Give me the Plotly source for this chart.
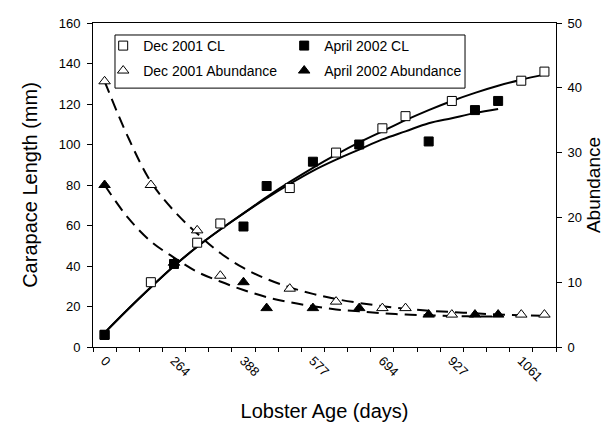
import plotly.graph_objects as go

# category slots along the x axis (Excel-style category axis, 20 slots)
slots = list(range(1, 21))
label_slots = [1, 4, 7, 10, 13, 16, 19]
age_labels = ["0", "264", "388", "577", "694", "927", "1061"]

# Dec 2001 sampling
dec_slots = [1, 3, 5, 6, 9, 11, 13, 14, 16, 19, 20]
dec_cl = [6, 32, 51.5, 61, 78.5, 96, 108, 114, 121.5, 131.5, 136]
dec_abund = [41, 25, 18, 11, 9, 7, 6, 6, 5, 5, 5]

# April 2002 sampling
apr_slots = [1, 4, 7, 8, 10, 12, 15, 17, 18]
apr_cl = [6, 41, 59.5, 79.5, 91.5, 100, 101.5, 117, 121.5]
apr_abund = [25, 13, 10, 6, 6, 6, 5, 5, 5]

# trend lines at each slot
dec_cl_trend = [7, 18.5, 29.5, 40, 49.5, 58, 66, 74, 81.5, 88.5, 95, 101,
                106.5, 112, 117, 121.5, 125.5, 129, 132, 134.5]
apr_cl_trend = [7, 18.5, 29.5, 40, 49.5, 58, 66, 73.5, 80.5, 87, 92.5, 97.5,
                102.5, 106.5, 110.5, 113, 115.5, 117.5]
dec_ab_trend = [41, 32.5, 25.5, 21, 17.5, 14.5, 12.2, 10.5, 9.2, 8.2, 7.4, 6.8,
                6.3, 5.9, 5.6, 5.4, 5.2, 5.0, 4.9, 4.8]
apr_ab_trend = [25, 20, 16.3, 13.8, 11.6, 10.1, 8.8, 7.7, 6.9, 6.3, 5.8, 5.5,
                5.2, 5.0, 4.9, 4.8, 4.7, 4.7]

FONT = "Liberation Sans, Arial, sans-serif"
fig = go.Figure()

# trend curves
fig.add_trace(go.Scatter(x=slots, y=dec_cl_trend, mode="lines", line_shape="spline",
                         line=dict(color="black", width=2), showlegend=False))
fig.add_trace(go.Scatter(x=slots[:len(apr_cl_trend)], y=apr_cl_trend, mode="lines",
                         line_shape="spline", line=dict(color="black", width=2),
                         showlegend=False))
fig.add_trace(go.Scatter(x=slots, y=dec_ab_trend, mode="lines", line_shape="spline",
                         line=dict(color="black", width=2, dash="12px,7px"),
                         yaxis="y2", showlegend=False))
fig.add_trace(go.Scatter(x=slots[:len(apr_ab_trend)], y=apr_ab_trend, mode="lines",
                         line_shape="spline",
                         line=dict(color="black", width=2, dash="12px,7px"),
                         yaxis="y2", showlegend=False))

# markers
fig.add_trace(go.Scatter(x=dec_slots, y=dec_cl, mode="markers", name="Dec 2001 CL",
                         marker=dict(symbol="square", size=9, color="white",
                                     line=dict(color="black", width=1)),
                         legend="legend"))
fig.add_trace(go.Scatter(x=apr_slots, y=apr_cl, mode="markers", name="April 2002 CL",
                         marker=dict(symbol="square", size=9, color="black",
                                     line=dict(color="black", width=1)),
                         legend="legend"))
fig.add_trace(go.Scatter(x=dec_slots, y=dec_abund, mode="markers",
                         name="Dec 2001 Abundance", yaxis="y2",
                         marker=dict(symbol="triangle-up", size=10, color="white",
                                     line=dict(color="black", width=1)),
                         legend="legend2"))
fig.add_trace(go.Scatter(x=apr_slots, y=apr_abund, mode="markers",
                         name="April 2002 Abundance", yaxis="y2",
                         marker=dict(symbol="triangle-up", size=10, color="black",
                                     line=dict(color="black", width=1)),
                         legend="legend2"))

legend_style = dict(orientation="h", xanchor="left", yanchor="middle",
                    bgcolor="rgba(0,0,0,0)", borderwidth=0, entrywidth=136,
                    itemwidth=30, font=dict(family=FONT, size=14, color="black"))

fig.update_layout(
    template="none",
    width=609, height=429,
    margin=dict(l=85, r=61, t=15, b=90),
    paper_bgcolor="white", plot_bgcolor="white",
    font=dict(family=FONT, size=13, color="black"),
    xaxis=dict(range=[0.5, 20.5], tickmode="array", tickvals=label_slots,
               ticktext=age_labels, tickangle=45, ticks="", showgrid=False,
               zeroline=False, showline=True, linecolor="black", linewidth=1,
               mirror=True, automargin=False,
               minor=dict(tickmode="array",
                          tickvals=[s - 0.5 for s in slots] + [20.5],
                          ticks="outside", ticklen=4, tickcolor="black",
                          showgrid=False),
               title=dict(text="Lobster Age (days)", font=dict(size=20),
                          standoff=20)),
    yaxis=dict(range=[0, 160], dtick=20, ticks="outside", ticklen=5,
               ticklabelstandoff=4,
               tickcolor="black", showgrid=False, zeroline=False, showline=True,
               linecolor="black", linewidth=1, automargin=False,
               title=dict(text="Carapace Length (mm)", font=dict(size=20),
                          standoff=15)),
    yaxis2=dict(range=[0, 50], dtick=10, overlaying="y", side="right",
                ticks="outside", ticklen=5, ticklabelstandoff=3,
                tickcolor="black", showgrid=False,
                zeroline=False, showline=True, linecolor="black", linewidth=1,
                automargin=False,
                title=dict(text="Abundance", font=dict(size=19), standoff=5)),
    legend=dict(x=0.022, y=0.929, **legend_style),
    legend2=dict(x=0.022, y=0.852, **legend_style),
    shapes=[dict(type="rect", xref="paper", yref="paper", x0=0.0475, x1=0.8035,
                 y0=0.799, y1=0.963, line=dict(color="black", width=1),
                 fillcolor="white", layer="below")],
)

fig.write_html("out.html")
